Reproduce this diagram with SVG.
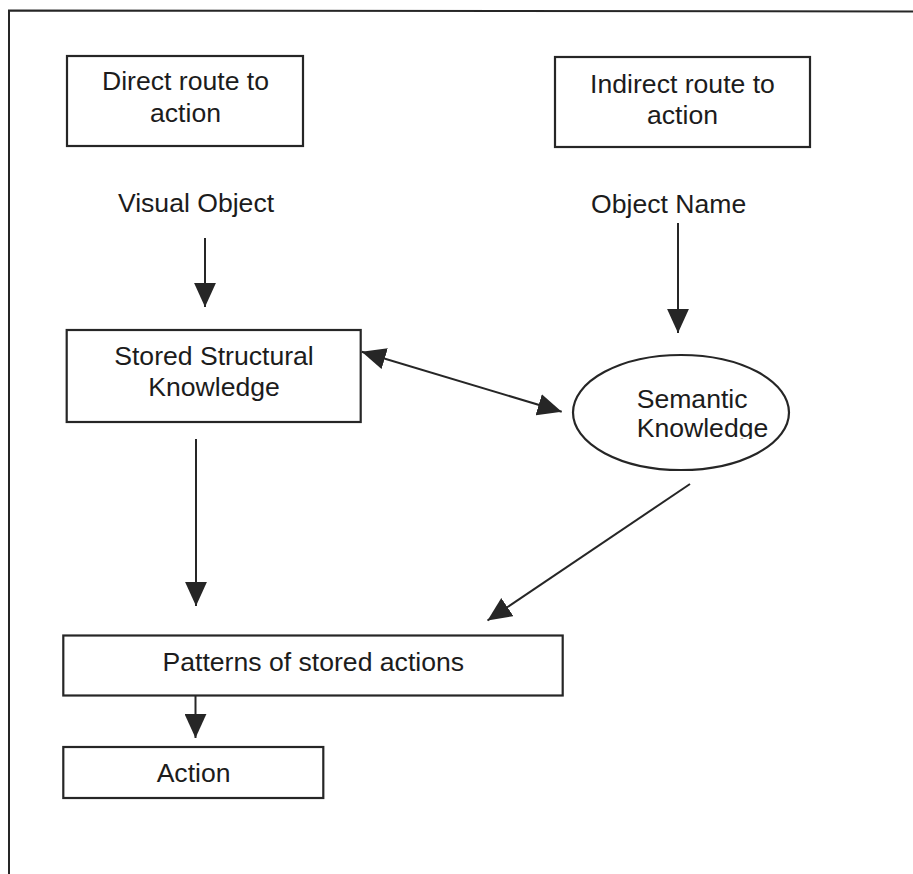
<svg xmlns="http://www.w3.org/2000/svg" width="913" height="874" viewBox="0 0 913 874">
  <style>
    .box { fill: #ffffff; stroke: #262626; stroke-width: 2.2; }
    .frame { fill: none; stroke: #262626; stroke-width: 2; }
    .label { font-family: "Liberation Sans", Arial, sans-serif; font-size: 26.6px; fill: #1c1c1c; }
    .mid { text-anchor: middle; }
    .conn { fill: none; stroke: #262626; stroke-width: 2; }
  </style>
  <defs>
    <marker id="head" markerUnits="userSpaceOnUse" markerWidth="24" markerHeight="22" viewBox="0 0 22 20" refX="22" refY="10" orient="auto-start-reverse">
      <path d="M0,0 L22,10 L0,20 Z" fill="#262626"/>
    </marker>
    <clipPath id="semClip">
      <rect x="560" y="340" width="260" height="99"/>
    </clipPath>
  </defs>

  <rect width="913" height="874" fill="#ffffff"/>

  <!-- open frame: top and left edges only -->
  <path class="frame" d="M9,874 L9,10.5 L913,11.5"/>

  <g id="direct-route">
    <rect class="box" x="67" y="56" width="236" height="90"/>
    <text class="label mid" x="185.5" y="90">Direct route to</text>
    <text class="label mid" x="185.5" y="122">action</text>
  </g>

  <g id="indirect-route">
    <rect class="box" x="555" y="57" width="255" height="90"/>
    <text class="label mid" x="682.5" y="92.5">Indirect route to</text>
    <text class="label mid" x="682.5" y="124">action</text>
  </g>

  <g id="visual-object">
    <text class="label mid" x="196" y="212">Visual Object</text>
  </g>

  <g id="object-name">
    <text class="label mid" x="668.7" y="213">Object Name</text>
  </g>

  <g id="structural-knowledge">
    <rect class="box" x="66.7" y="330" width="294" height="92"/>
    <text class="label mid" x="214" y="365">Stored Structural</text>
    <text class="label mid" x="214" y="396">Knowledge</text>
  </g>

  <g id="semantic-knowledge">
    <ellipse class="box" cx="681" cy="412.5" rx="108" ry="57.5"/>
    <text class="label" x="636.7" y="408">Semantic</text>
    <text class="label" x="636.7" y="437" clip-path="url(#semClip)">Knowledge</text>
  </g>

  <g id="stored-actions">
    <rect class="box" x="63.3" y="635.5" width="499.4" height="60"/>
    <text class="label mid" x="313.3" y="670.7">Patterns of stored actions</text>
  </g>

  <g id="action">
    <rect class="box" x="63.3" y="747" width="260" height="51"/>
    <text class="label mid" x="193.6" y="781.7">Action</text>
  </g>

  <g id="connectors">
    <line class="conn" x1="205" y1="238" x2="205" y2="307" marker-end="url(#head)"/>
    <line class="conn" x1="678" y1="223" x2="678" y2="333" marker-end="url(#head)"/>
    <line class="conn" x1="361.7" y1="351.7" x2="561.7" y2="411.7" marker-start="url(#head)" marker-end="url(#head)"/>
    <line class="conn" x1="196" y1="439" x2="196" y2="606" marker-end="url(#head)"/>
    <line class="conn" x1="690" y1="484" x2="487.5" y2="620.5" marker-end="url(#head)"/>
    <line class="conn" x1="195.5" y1="695.5" x2="195.5" y2="738" marker-end="url(#head)"/>
  </g>
</svg>
